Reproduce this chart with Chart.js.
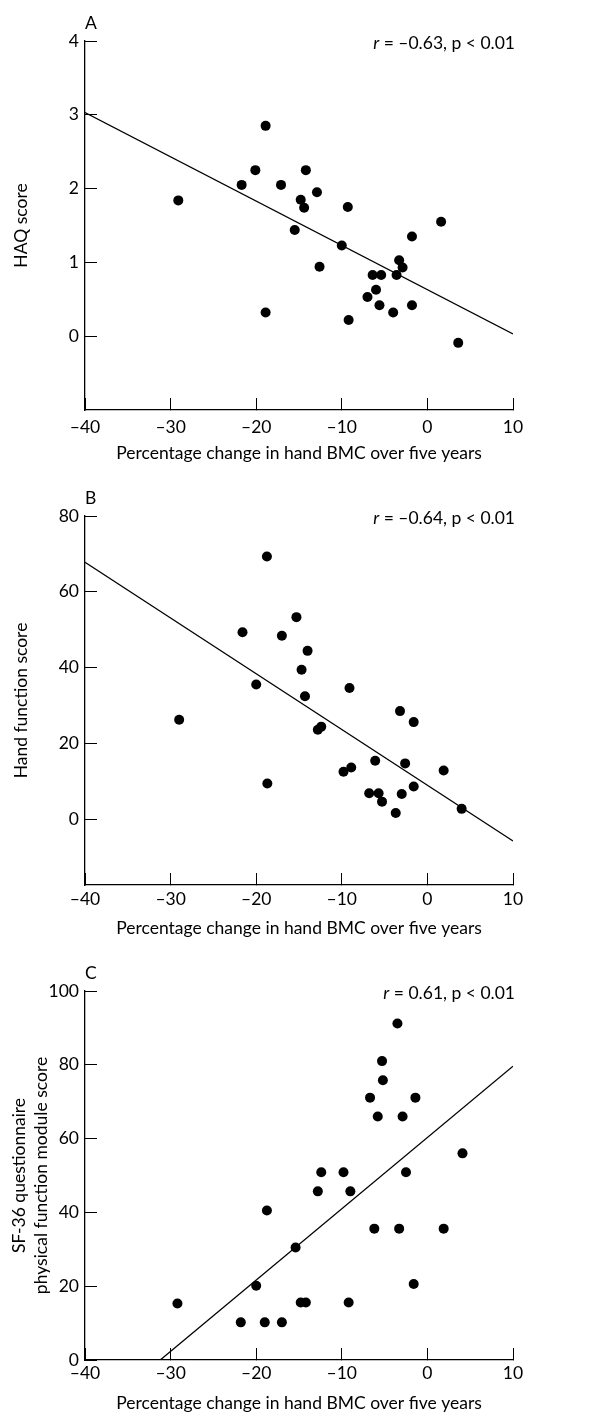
<!DOCTYPE html>
<html>
<head>
<meta charset="utf-8">
<script src="https://cdn.jsdelivr.net/npm/chart.js@4"></script>
<style>
  html, body { margin: 0; padding: 0; background: #fff; }
  .panel { position: absolute; left: 0; }
</style>
</head>
<body>
<canvas class="panel" id="chartA" width="613" height="470" style="top:0"></canvas>
<canvas class="panel" id="chartB" width="613" height="470" style="top:470px"></canvas>
<canvas class="panel" id="chartC" width="613" height="474" style="top:940px"></canvas>
<script>
// ── data ───────────────────────────────────────────────────────
const panelLetters = ['A', 'B', 'C'];
const rValues      = ['\u20130.63', '\u20130.64', '0.61'];
const yTitles      = ['HAQ score', 'Hand function score', ['SF-36 questionnaire', 'physical function module score']];
const xTitle       = 'Percentage change in hand BMC over five years';

const xTicks = [-40, -30, -20, -10, 0, 10];
const yMin   = [-1, -17.4, 0];
const yMax   = [4, 80, 100];
const yStep  = [1, 20, 20];

// A – HAQ score
const xA = [-18.9, -20.1, -14.2, -21.7, -17.1, -12.9, -29.1, -14.8, -14.4, -9.3, -15.5, 1.6, -1.8, -10.0,
            -3.3, -2.9, -12.6, -6.4, -5.4, -3.6, -6.0, -7.0, -5.6, -1.8, -4.0, -18.9, -9.2, 3.6];
const yA = [2.85, 2.25, 2.25, 2.05, 2.05, 1.95, 1.84, 1.85, 1.74, 1.75, 1.44, 1.55, 1.35, 1.23,
            1.03, 0.93, 0.94, 0.83, 0.83, 0.83, 0.63, 0.53, 0.42, 0.42, 0.32, 0.32, 0.22, -0.09];

// B – hand function score
const xB = [-18.75, -15.3, -21.6, -17.0, -14.0, -14.7, -20.0, -9.1, -14.3, -3.2, -29.0, -1.6, -12.4, -12.8,
            -6.1, -2.6, -8.9, -9.8, 1.9, -18.7, -1.6, -6.8, -5.7, -3.0, -5.3, 4.0, -3.7];
const yB = [69.3, 53.3, 49.3, 48.4, 44.4, 39.4, 35.5, 34.6, 32.4, 28.5, 26.2, 25.6, 24.4, 23.6,
            15.4, 14.7, 13.6, 12.5, 12.8, 9.4, 8.6, 6.8, 6.8, 6.6, 4.6, 2.7, 1.6];

// C – SF-36 physical function
const xC = [-3.5, -5.3, -5.2, -6.7, -1.4, -5.8, -2.9, 4.1, -12.4, -9.8, -2.5, -12.8, -9.0, -18.75,
            -6.2, -3.3, 1.9, -15.4, -20.0, -1.6, -29.2, -14.8, -14.2, -9.2, -21.8, -19.0, -17.0];
const yC = [91.2, 81.0, 75.8, 71.1, 71.1, 66.0, 66.0, 56.0, 50.9, 50.9, 50.9, 45.7, 45.7, 40.5,
            35.6, 35.6, 35.6, 30.5, 20.1, 20.6, 15.3, 15.6, 15.6, 15.6, 10.2, 10.2, 10.2];

// regression lines  y = intercept + slope * x
const fitSlope     = [-0.06, -1.472, 1.932];
const fitIntercept = [0.63, 8.92, 60.3];

// ── layout ─────────────────────────────────────────────────────
const FONT = 'Lato, "Noto Sans", sans-serif';
const FS   = 17.5;
const LAYOUT = [
  { id: 'chartA', h: 470, top: 41, bottom: 410, xTitlePad: 6.5, xTickPad: 19 },
  { id: 'chartB', h: 470, top: 46, bottom: 415, xTitlePad: 1.5, xTickPad: 16 },
  { id: 'chartC', h: 474, top: 51, bottom: 420, xTitlePad: 0.5, xTickPad: 15 },
];

const dash = v => v < 0 ? '\u2013' + Math.abs(v) : String(v);

const panelText = {
  id: 'panelText',
  afterDraw(chart, args, o) {
    const { ctx, chartArea: a } = chart;
    ctx.save();
    ctx.fillStyle = '#000';
    ctx.textBaseline = 'middle';
    ctx.font = `${FS}px ${FONT}`;
    ctx.textAlign = 'left';
    ctx.fillText(o.letter, a.left, a.top - 18);
    ctx.textAlign = 'right';
    const rest = ` = ${o.r}, p < 0.01`;
    ctx.fillText(rest, a.right + 2, a.top + 2);
    const w = ctx.measureText(rest).width;
    ctx.font = `italic ${FS}px ${FONT}`;
    ctx.fillText('r', a.right + 2 - w, a.top + 2);
    ctx.restore();
  }
};

function fitLine(i) {
  const m = fitSlope[i], b = fitIntercept[i];
  let x0 = xTicks[0], x1 = xTicks[xTicks.length - 1];
  if (b + m * x0 < yMin[i]) x0 = (yMin[i] - b) / m;
  if (b + m * x1 < yMin[i]) x1 = (yMin[i] - b) / m;
  return [{ x: x0, y: b + m * x0 }, { x: x1, y: b + m * x1 }];
}

function makePanel(i, xs, ys) {
  const L = LAYOUT[i];
  const multi = Array.isArray(yTitles[i]);
  return new Chart(document.getElementById(L.id), {
    type: 'scatter',
    data: {
      datasets: [
        { data: xs.map((x, k) => ({ x, y: ys[k] })), pointRadius: 5, pointBackgroundColor: '#000', pointBorderWidth: 0 },
        { type: 'line', data: fitLine(i), borderColor: '#000', borderWidth: 1.3, pointRadius: 0, fill: false }
      ]
    },
    options: {
      responsive: false, animation: false,
      layout: { padding: { top: L.top, right: 100, left: 0, bottom: 0 } },
      plugins: {
        legend: { display: false }, tooltip: { enabled: false },
        panelText: { letter: panelLetters[i], r: rValues[i] }
      },
      scales: {
        x: {
          type: 'linear', min: xTicks[0], max: xTicks[xTicks.length - 1],
          afterBuildTicks: s => { s.ticks = xTicks.map(v => ({ value: v })); },
          ticks: { color: '#000', font: { family: FONT, size: FS }, padding: L.xTickPad, callback: dash, maxRotation: 0 },
          grid: { drawOnChartArea: false, tickLength: -12, color: '#000', lineWidth: 1 },
          border: { color: '#000', width: 1.3 },
          title: { display: true, text: xTitle, color: '#000', font: { family: FONT, size: FS }, padding: { top: 0, bottom: L.xTitlePad } },
          afterFit: s => { s.height = L.h - L.bottom; }
        },
        y: {
          type: 'linear', min: yMin[i], max: yMax[i],
          afterBuildTicks: s => { s.ticks = s.ticks.filter(t => t.value >= 0 && t.value % yStep[i] === 0); },
          ticks: { stepSize: yStep[i], color: '#000', font: { family: FONT, size: FS }, padding: 18 },
          grid: { drawOnChartArea: false, tickLength: -12, color: '#000', lineWidth: 1 },
          border: { color: '#000', width: 1.3 },
          title: { display: true, text: yTitles[i], color: '#000',
                   font: { family: FONT, size: FS, lineHeight: multi ? 1.3 : 1.2 },
                   padding: { top: multi ? 7.5 : 10.5, bottom: 0 } },
          afterFit: s => { s.width = 85; }
        }
      }
    },
    plugins: [panelText]
  });
}

makePanel(0, xA, yA);
makePanel(1, xB, yB);
makePanel(2, xC, yC);
</script>
</body>
</html>
